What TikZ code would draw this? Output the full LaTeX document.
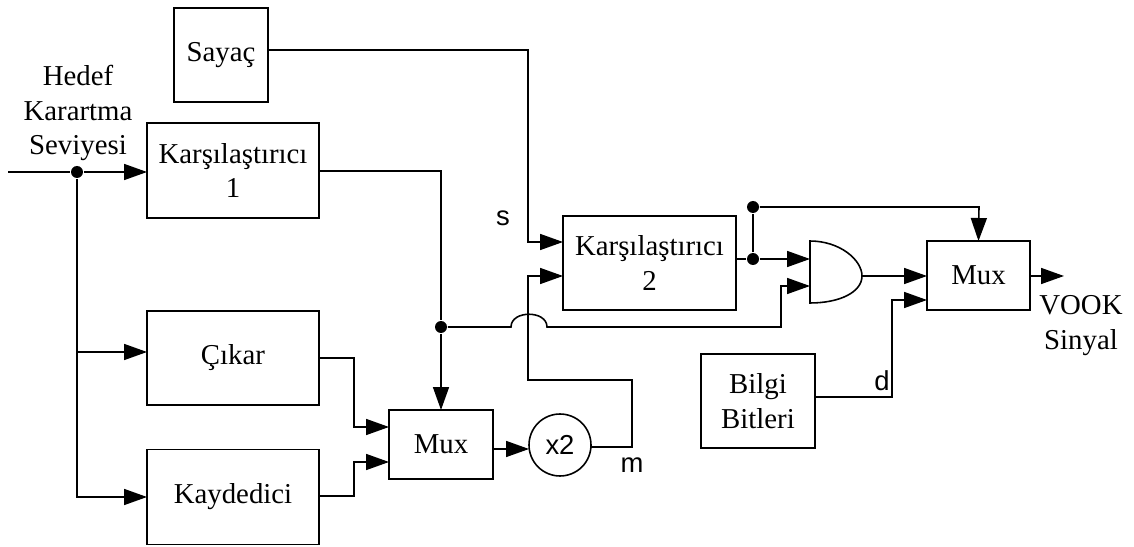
\documentclass[tikz,border=0pt]{standalone}
\usepackage{fontspec}
\setmainfont{Liberation Serif}
\setsansfont{Liberation Sans}
\usepackage{tikz}
\usetikzlibrary{arrows.meta}
\tikzset{
	blok/.style={rectangle, draw, align=center, inner sep=0pt, outer sep=0pt},
	nokta/.style={circle, fill=black, inner sep=0pt, minimum size=0.24cm},
	yazi/.style={align=center, inner sep=0pt},
	harf/.style={inner sep=0pt, font=\fontsize{15.6}{18}\sffamily},
	hat/.style={-{Triangle[length=0.46cm, width=0.32cm]}},
}
\begin{document}
\begin{tikzpicture}[x=0.02cm, y=-0.02cm, line width=0.9pt, font=\fontsize{16.4}{19.9}\selectfont]
			\useasboundingbox (0,0) rectangle (1134,547);
			% sol bloklar
			\node (sayac) at (221,55) [blok, minimum width=1.88cm, minimum height=1.88cm] {Sayaç};
			\node (kar1) at (233,170.5) [blok, minimum width=3.44cm, minimum height=1.9cm] {Karşılaştırıcı\\1};
			\node (cikar) at (233,358) [blok, minimum width=3.44cm, minimum height=1.88cm] {Çıkar};
			\node (kayit) at (233,497) [blok, minimum width=3.44cm, minimum height=1.9cm] {Kaydedici};
			\node (hedef) at (78,113) [yazi] {Hedef\\Karartma\\Seviyesi};
			\coordinate (giris) at (8,172);
			\node (d1) at (77,172) [nokta] {};
			\draw[hat] (giris)--(d1)--(kar1.west |- d1);
			\draw[hat] (d1)--(77,352)--(cikar.west |- 0,352);
			\draw[hat] (d1)--(77,497)--(kayit.west);

			% orta kisim
			\node (mux1) at (441,444.5) [blok, minimum width=2.08cm, minimum height=1.38cm] {Mux};
			\node (x2) at (560,445) [circle, draw, inner sep=0pt, outer sep=0pt, minimum size=1.24cm, font=\fontsize{15.6}{18}\sffamily] {x2};
			\node (d2) at (441,327) [nokta] {};
			\draw (kar1.east |- 0,171)--(441,171)--(d2);
			\draw[hat] (d2)--(mux1.north);
			\draw[hat] (cikar.east)--(354,358)--(354,427)--(mux1.west |- 0,427);
			\draw[hat] (kayit.east |- 0,496)--(354,496)--(354,462)--(mux1.west |- 0,462);
			\draw[hat] (mux1.east |- 0,449)--(x2.west |- 0,449);
			\node (m) at (632,465) [harf] {m};

			% karsilastirici 2
			\node (kar2) at (649.5,263) [blok, minimum width=3.46cm, minimum height=1.88cm] {Karşılaştırıcı\\2};
			\draw[hat] (sayac.east |- 0,50)--(528,50)--(528,242)--(kar2.west |- 0,242);
			\draw[hat] (x2.east |- 0,447)--(632,447)--(632,380)--(528,380)--(528,276)--(kar2.west |- 0,276);
			\node (s) at (503,218) [harf] {s};

			% VE kapisi
			\node (ve) at (836,272) [minimum width=1.04cm, minimum height=1.24cm, inner sep=0pt, outer sep=0pt] {};
			\draw (ve.north west)--(ve.south west) .. controls (840,303) and (862,292) .. (862,276) .. controls (862,260) and (840,241) .. (ve.north west)--cycle;
			\node (d3) at (753,259) [nokta] {};
			\node (d4) at (753,207) [nokta] {};
			\draw (kar2.east |- d3)--(d3);
			\draw (d3)--(d4);
			\draw[hat] (d3)--(ve.west |- d3);
			\draw[hat] (d2)--(511,327) .. controls (511,310) and (547,310) .. (547,327)--(781,327)--(781,286)--(ve.west |- 0,286);

			% cikis
			\node (mux2) at (978.5,275.5) [blok, minimum width=2.06cm, minimum height=1.38cm] {Mux};
			\node (bilgi) at (758,401) [blok, minimum width=2.28cm, minimum height=1.88cm] {Bilgi\\Bitleri};
			\coordinate (cikis) at (1064,276);
			\draw[hat] (862,276)--(mux2.west |- 0,276);
			\draw[hat] (d4)--(979,207)--(mux2.north);
			\draw[hat] (bilgi.east |- 0,397)--(892,397)--(892,300)--(mux2.west |- 0,300);
			\draw[hat] (mux2.east |- cikis)--(cikis);
			\node (d) at (882,381) [harf] {d};
			\node (vook) at (1081,326) [yazi] {VOOK\\Sinyal};
		\end{tikzpicture}
\end{document}
